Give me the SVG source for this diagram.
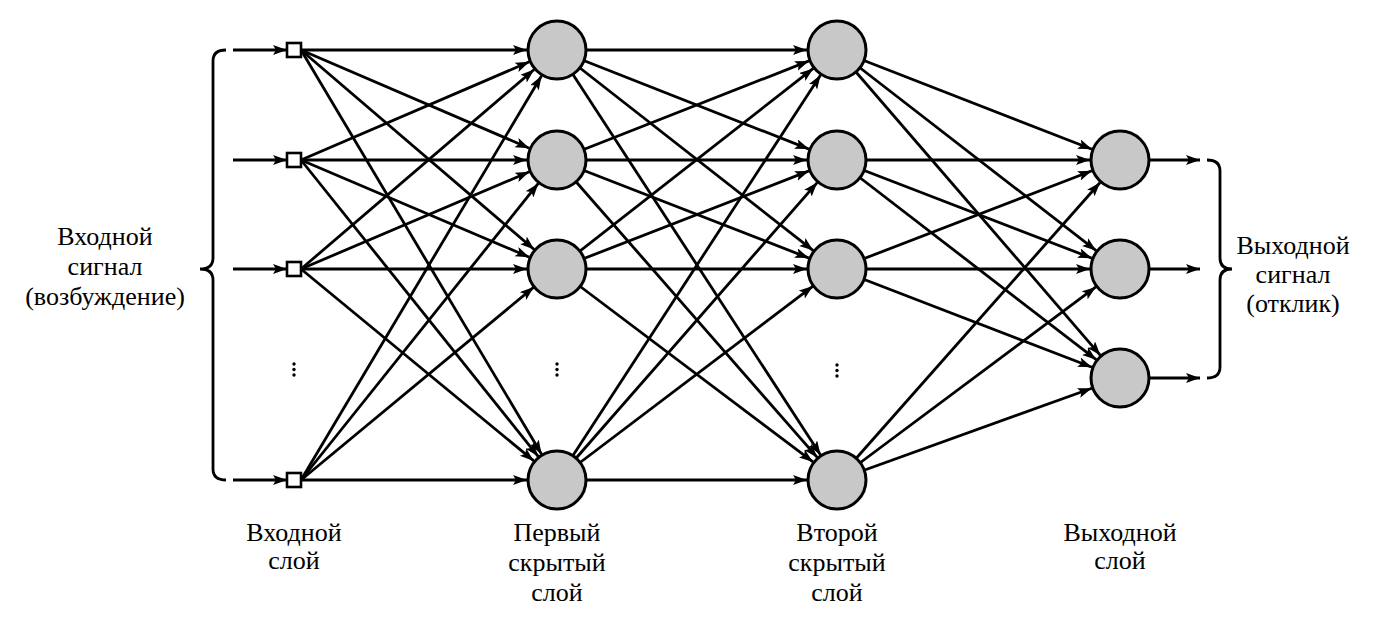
<svg xmlns="http://www.w3.org/2000/svg" width="1376" height="629" viewBox="0 0 1376 629">
<style>
.c line{stroke:#000;stroke-width:2.8;marker-end:url(#ah)}
.n{fill:#c8c8c8;stroke:#000;stroke-width:3}
.sq{fill:#fff;stroke:#000;stroke-width:2.6}
.br{fill:none;stroke:#000;stroke-width:2.8}
.t{font-family:"Liberation Serif","Times New Roman",serif;font-size:26px;fill:#000;text-anchor:middle}
.d{fill:#000}
</style>
<defs>
<marker id="ah" markerUnits="userSpaceOnUse" markerWidth="16" markerHeight="11" refX="14" refY="5" orient="auto">
<path d="M0,0 L14,5 L0,10 L3,5 z" fill="#000"/>
</marker>
</defs>
<rect width="1376" height="629" fill="#fff"/>
<g id="braces">
<path class="br" d="M226,50 Q213,50 213,61 L213,258 Q213,269 200,269 Q213,269 213,280 L213,469 Q213,480 226,480"/>
<path class="br" d="M1207,160 Q1220,160 1220,171 L1220,258 Q1220,269 1232,269 Q1220,269 1220,280 L1220,367 Q1220,378 1207,378"/>
</g>
<g id="connectors" class="c">
<line x1="233" y1="50" x2="287" y2="50"/>
<line x1="233" y1="160" x2="287" y2="160"/>
<line x1="233" y1="269" x2="287" y2="269"/>
<line x1="233" y1="480" x2="287" y2="480"/>
<line x1="301" y1="50" x2="527" y2="50"/>
<line x1="301" y1="50" x2="529.4" y2="148.2"/>
<line x1="301" y1="50" x2="534.2" y2="249.5"/>
<line x1="301" y1="50" x2="541.6" y2="454.2"/>
<line x1="301" y1="160" x2="529.4" y2="61.8"/>
<line x1="301" y1="160" x2="527" y2="160"/>
<line x1="301" y1="160" x2="529.4" y2="257.2"/>
<line x1="301" y1="160" x2="538.3" y2="456.6"/>
<line x1="301" y1="269" x2="534.2" y2="69.5"/>
<line x1="301" y1="269" x2="529.4" y2="171.8"/>
<line x1="301" y1="269" x2="527" y2="269"/>
<line x1="301" y1="269" x2="533.8" y2="460.9"/>
<line x1="301" y1="480" x2="541.6" y2="75.8"/>
<line x1="301" y1="480" x2="538.3" y2="183.4"/>
<line x1="301" y1="480" x2="533.8" y2="287.1"/>
<line x1="301" y1="480" x2="527" y2="480"/>
<line x1="557" y1="50" x2="807" y2="50"/>
<line x1="557" y1="50" x2="809" y2="149.1"/>
<line x1="557" y1="50" x2="813.3" y2="250.6"/>
<line x1="557" y1="50" x2="820.6" y2="454.9"/>
<line x1="557" y1="160" x2="809" y2="60.9"/>
<line x1="557" y1="160" x2="807" y2="160"/>
<line x1="557" y1="160" x2="809" y2="258.1"/>
<line x1="557" y1="160" x2="817.2" y2="457.4"/>
<line x1="557" y1="269" x2="813.3" y2="68.4"/>
<line x1="557" y1="269" x2="809" y2="170.9"/>
<line x1="557" y1="269" x2="807" y2="269"/>
<line x1="557" y1="269" x2="813" y2="461.9"/>
<line x1="557" y1="480" x2="820.6" y2="75.1"/>
<line x1="557" y1="480" x2="817.2" y2="182.6"/>
<line x1="557" y1="480" x2="813" y2="286.1"/>
<line x1="557" y1="480" x2="807" y2="480"/>
<line x1="837" y1="50" x2="1092" y2="149.2"/>
<line x1="837" y1="50" x2="1096.2" y2="250.7"/>
<line x1="837" y1="50" x2="1100.4" y2="355.3"/>
<line x1="837" y1="160" x2="1090" y2="160"/>
<line x1="837" y1="160" x2="1092" y2="258.2"/>
<line x1="837" y1="160" x2="1096.2" y2="359.7"/>
<line x1="837" y1="269" x2="1092" y2="170.8"/>
<line x1="837" y1="269" x2="1090" y2="269"/>
<line x1="837" y1="269" x2="1092" y2="367.2"/>
<line x1="837" y1="480" x2="1100.1" y2="182.5"/>
<line x1="837" y1="480" x2="1095.9" y2="286.9"/>
<line x1="837" y1="480" x2="1091.8" y2="388.2"/>
<line x1="1120" y1="160" x2="1200" y2="160"/>
<line x1="1120" y1="269" x2="1200" y2="269"/>
<line x1="1120" y1="378" x2="1200" y2="378"/>
</g>
<g id="input-layer">
<rect id="in1" class="sq" x="287" y="43" width="14" height="14"/>
<rect id="in2" class="sq" x="287" y="153" width="14" height="14"/>
<rect id="in3" class="sq" x="287" y="262" width="14" height="14"/>
<rect id="in4" class="sq" x="287" y="473" width="14" height="14"/>
<g id="in-dots" class="d"><circle cx="294" cy="364" r="1.7"/><circle cx="294" cy="369.5" r="1.7"/><circle cx="294" cy="375" r="1.7"/></g>
</g>
<g id="hidden1">
<circle id="h1a" class="n" cx="557" cy="50" r="29"/>
<circle id="h1b" class="n" cx="557" cy="160" r="29"/>
<circle id="h1c" class="n" cx="557" cy="269" r="29"/>
<circle id="h1d" class="n" cx="557" cy="480" r="29"/>
<g id="h1-dots" class="d"><circle cx="557" cy="364" r="1.7"/><circle cx="557" cy="369.5" r="1.7"/><circle cx="557" cy="375" r="1.7"/></g>
</g>
<g id="hidden2">
<circle id="h2a" class="n" cx="837" cy="50" r="29"/>
<circle id="h2b" class="n" cx="837" cy="160" r="29"/>
<circle id="h2c" class="n" cx="837" cy="269" r="29"/>
<circle id="h2d" class="n" cx="837" cy="480" r="29"/>
<g id="h2-dots" class="d"><circle cx="837" cy="365" r="1.7"/><circle cx="837" cy="370.5" r="1.7"/><circle cx="837" cy="376" r="1.7"/></g>
</g>
<g id="output-layer">
<circle id="o1" class="n" cx="1120" cy="160" r="29"/>
<circle id="o2" class="n" cx="1120" cy="269" r="29"/>
<circle id="o3" class="n" cx="1120" cy="378" r="29"/>
</g>
<g id="labels" class="t">
<text x="105" y="245">Входной</text>
<text x="105" y="275">сигнал</text>
<text x="105" y="305">(возбуждение)</text>
<text x="1293" y="254">Выходной</text>
<text x="1293" y="283">сигнал</text>
<text x="1293" y="312">(отклик)</text>
<text x="294" y="541">Входной</text>
<text x="294" y="569">слой</text>
<text x="557" y="541">Первый</text>
<text x="557" y="571">скрытый</text>
<text x="557" y="601">слой</text>
<text x="837" y="541">Второй</text>
<text x="837" y="571">скрытый</text>
<text x="837" y="601">слой</text>
<text x="1120" y="541">Выходной</text>
<text x="1120" y="569">слой</text>
</g>
</svg>
